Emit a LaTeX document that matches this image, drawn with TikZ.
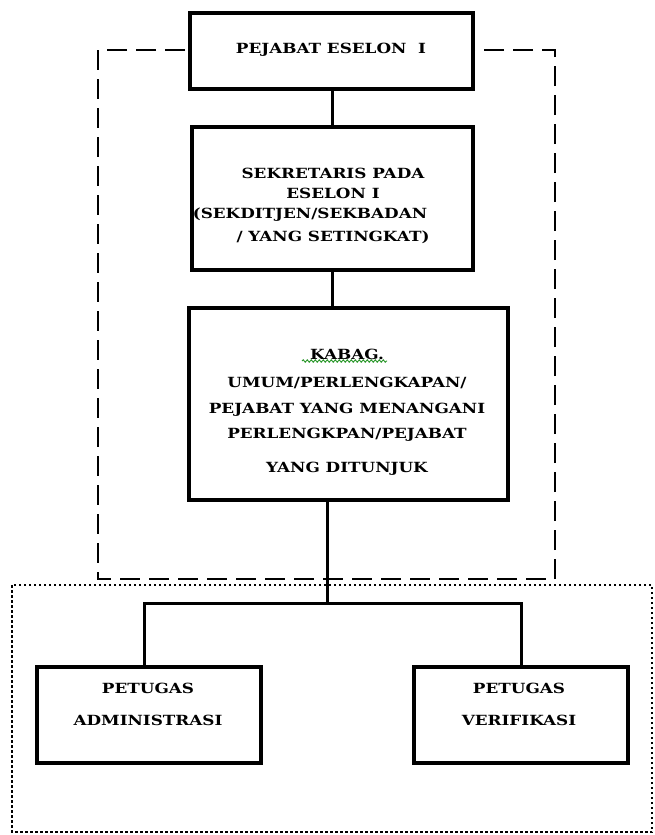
\documentclass[tikz,border=0pt]{standalone}
\usepackage{fontspec}
\usetikzlibrary{decorations.pathmorphing}
\newfontfamily\boxfont[FakeStretch=1.2]{DejaVu Serif}
\definecolor{spellgreen}{RGB}{40,150,40}
\begin{document}
\begin{tikzpicture}[x=1pt,y=-1pt,
  orgbox/.style={draw, fill=white, line width=3.2pt, inner sep=0pt},
  boxtext/.style={align=center, font=\boxfont\bfseries\fontsize{14}{20}\selectfont, inner sep=0pt},
  link/.style={line width=3pt},
  groupline/.style={line width=2.2pt, dash pattern=on 20pt off 9pt},
  unitline/.style={line width=2.5pt, dash pattern=on 2.5pt off 2.5pt},
  squiggle/.style={spellgreen, line width=0.9pt, decorate,
    decoration={snake, amplitude=1.2pt, segment length=4pt}}]
\useasboundingbox (0,0) rectangle (655,835);

% outer groupings
\draw[groupline] (98,50) rectangle (555,579);
\draw[unitline] (12,585) rectangle (652,832);

% boxes
\node[orgbox, minimum width=283pt, minimum height=76pt] (b1) at (331.5,51) {};
\node[orgbox, minimum width=281pt, minimum height=143pt] (b2) at (332.5,198.5) {};
\node[orgbox, minimum width=319pt, minimum height=192pt] (b3) at (348.5,404) {};
\node[orgbox, minimum width=224pt, minimum height=96pt] (b4) at (149,715) {};
\node[orgbox, minimum width=214pt, minimum height=96pt] (b5) at (521,715) {};

% texts
\node[boxtext] (t1) at (331,50) {PEJABAT ESELON~~I};
\node[boxtext] (t2) at (333,206) {SEKRETARIS PADA\\ESELON I\\\hspace*{-46pt}(SEKDITJEN/SEKBADAN\\[3pt]/ YANG SETINGKAT)};
\node[boxtext] (t3) at (347,412) {KABAG.\\[8pt]UMUM/PERLENGKAPAN/\\[6pt]PEJABAT YANG MENANGANI\\[5pt]PERLENGKPAN/PEJABAT\\[14pt]YANG DITUNJUK};
\node[boxtext] (t4) at (148,704) {PETUGAS\\[12pt]ADMINISTRASI};
\node[boxtext] (t5) at (519,704) {PETUGAS\\[12pt]VERIFIKASI};

% spelling mark under the first word
\draw[squiggle] (302,361) -- (387,361);

% connectors
\coordinate (top) at (332,0);
\coordinate (split) at (327,603);
\coordinate (leftdrop) at (144,0);
\coordinate (rightdrop) at (521,0);
\draw[link] (b1.south -| top) -- (b2.north -| top);
\draw[link] (b2.south -| top) -- (b3.north -| top);
\draw[link] (b3.south -| split) -- (split);
\draw[link] (b4.north -| leftdrop) |- (split) -| (b5.north -| rightdrop);
\end{tikzpicture}
\end{document}
